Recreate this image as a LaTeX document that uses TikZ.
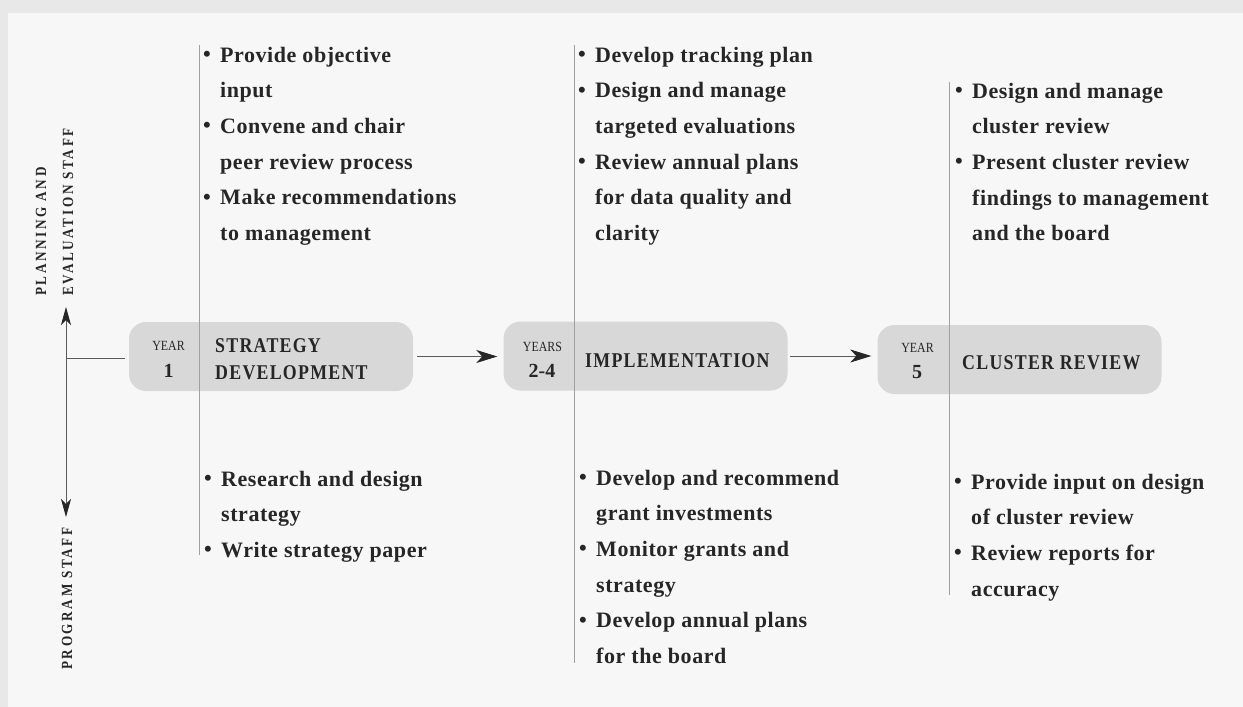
\documentclass[tikz,border=0pt]{standalone}
\usepackage{fontspec}
\setmainfont{Liberation Serif}
\newfontfamily\itemfont[LetterSpace=2.5]{Liberation Serif}
\newfontfamily\capsfont[FakeStretch=0.85,LetterSpace=6]{Liberation Serif}
\newfontfamily\yearfont[FakeStretch=0.85]{Liberation Serif}
\newfontfamily\sidefont[FakeStretch=0.85,LetterSpace=17]{Liberation Serif}
\usetikzlibrary{arrows.meta}

\definecolor{outerbg}{RGB}{232,232,232}
\definecolor{paper}{RGB}{247,247,247}
\definecolor{boxfill}{RGB}{216,216,216}
\definecolor{ink}{RGB}{38,38,38}
\definecolor{rule}{RGB}{160,160,160}
\definecolor{conncol}{RGB}{90,90,90}

% bullet item helpers
\newcommand\bitem{\makebox[17pt][l]{\raisebox{0.5pt}{\textbullet}}}
\newcommand\bcont{\hspace*{17pt}}

\tikzset{
  phasebox/.style={draw=none, fill=boxfill, rounded corners=17pt,
    minimum width=284pt, minimum height=69pt, inner sep=0pt},
  itemcol/.style={anchor=base west, inner sep=0pt, text=ink},
  yearlbl/.style={anchor=base, inner sep=0pt, text=ink,
    font=\yearfont\fontsize{14}{14}\selectfont},
  yearnum/.style={anchor=base, inner sep=0pt, text=ink,
    font=\bfseries\fontsize{20}{20}\selectfont},
  phaselbl/.style={anchor=base west, inner sep=0pt, text=ink},
  sidelbl/.style={anchor=base west, inner sep=0pt, rotate=90, text=ink},
  divider/.style={draw=rule, line width=0.8pt},
  conn/.style={draw=conncol, line width=0.9pt,
    -{Stealth[length=21pt,width=13pt,inset=6pt,color=ink]}},
  axis/.style={draw=conncol, line width=0.9pt},
  axistip/.style={-{Stealth[length=18pt,width=10pt,inset=5pt,color=ink]}},
}

\newcommand\itemtext[1]{\parbox[t]{320pt}{\itemfont\bfseries\fontsize{22}{35.7}\selectfont\raggedright #1}}

\begin{document}
\begin{tikzpicture}[x=1pt,y=-1pt]
  % page and paper
  \fill[outerbg] (0,0) rectangle (1243,707);
  \fill[paper] (8,13) rectangle (1243,707);
  \useasboundingbox (0,0) rectangle (1243,707);

  % phase boxes
  \node[phasebox] (b1) at (271,356.5) {};
  \node[phasebox] (b2) at (645.5,356) {};
  \node[phasebox] (b3) at (1019.5,359.5) {};

  % column rules
  \coordinate (r1t) at (199.5,45);  \coordinate (r1b) at (199.5,555);
  \coordinate (r2t) at (574.5,45);  \coordinate (r2b) at (574.5,663);
  \coordinate (r3t) at (949.5,82);  \coordinate (r3b) at (949.5,595);
  \draw[divider] (r1t) -- (r1b);
  \draw[divider] (r2t) -- (r2b);
  \draw[divider] (r3t) -- (r3b);

  % box labels
  \node[yearlbl] (y1) at (168.5,350) {YEAR};
  \node[yearnum] (n1) at (168.5,377) {1};
  \node[phaselbl] (p1) at (215,352)
    {\parbox[t]{190pt}{\capsfont\bfseries\fontsize{21}{27}\selectfont STRATEGY\\DEVELOPMENT}};

  \node[yearlbl] (y2) at (542.5,351) {YEARS};
  \node[yearnum] (n2) at (542,377) {2-4};
  \node[phaselbl, font=\capsfont\bfseries\fontsize{21}{21}\selectfont] (p2) at (585,367) {IMPLEMENTATION};

  \node[yearlbl] (y3) at (917.5,352) {YEAR};
  \node[yearnum] (n3) at (917,378) {5};
  \node[phaselbl, font=\capsfont\bfseries\fontsize{21}{21}\selectfont] (p3) at (962,369) {CLUSTER REVIEW};

  % flow arrows between phases
  \draw[conn, shorten <=4pt, shorten >=6pt] (b1.east) -- (b2.west |- b1.east);
  \draw[conn, shorten <=2pt, shorten >=6pt] (b2.east) -- (b3.west |- b2.east);

  % staff axis
  \coordinate (ax) at (66,358);
  \coordinate (axup) at (66,307);
  \coordinate (axdown) at (66,517);
  \draw[axis, axistip] (ax) -- (axup);
  \draw[axis, axistip] (ax) -- (axdown);
  \draw[axis, shorten >=4pt] (ax) -- (b1.west |- ax);

  \node[sidelbl] (pe) at (46,296)
    {\parbox[t]{200pt}{\sidefont\bfseries\fontsize{15.5}{27}\selectfont PLANNING AND\\EVALUATION STAFF}};
  \node[sidelbl, font=\sidefont\bfseries\fontsize{15.5}{15.5}\selectfont] (ps) at (72,670) {PROGRAM STAFF};

  % planning and evaluation staff tasks
  \node[itemcol] (t1) at (203,62) {\itemtext{%
    \bitem Provide objective\\
    \bcont input\\
    \bitem Convene and chair\\
    \bcont peer review process\\
    \bitem Make recommendations\\
    \bcont to management}};
  \node[itemcol] (t2) at (578,62) {\itemtext{%
    \bitem Develop tracking plan\\
    \bitem Design and manage\\
    \bcont targeted evaluations\\
    \bitem Review annual plans\\
    \bcont for data quality and\\
    \bcont clarity}};
  \node[itemcol] (t3) at (955,98) {\itemtext{%
    \bitem Design and manage\\
    \bcont cluster review\\
    \bitem Present cluster review\\
    \bcont findings to management\\
    \bcont and the board}};

  % program staff tasks
  \node[itemcol] (s1) at (204,486) {\itemtext{%
    \bitem Research and design\\
    \bcont strategy\\
    \bitem Write strategy paper}};
  \node[itemcol] (s2) at (579,485) {\itemtext{%
    \bitem Develop and recommend\\
    \bcont grant investments\\
    \bitem Monitor grants and\\
    \bcont strategy\\
    \bitem Develop annual plans\\
    \bcont for the board}};
  \node[itemcol] (s3) at (954,489) {\itemtext{%
    \bitem Provide input on design\\
    \bcont of cluster review\\
    \bitem Review reports for\\
    \bcont accuracy}};
\end{tikzpicture}
\end{document}
